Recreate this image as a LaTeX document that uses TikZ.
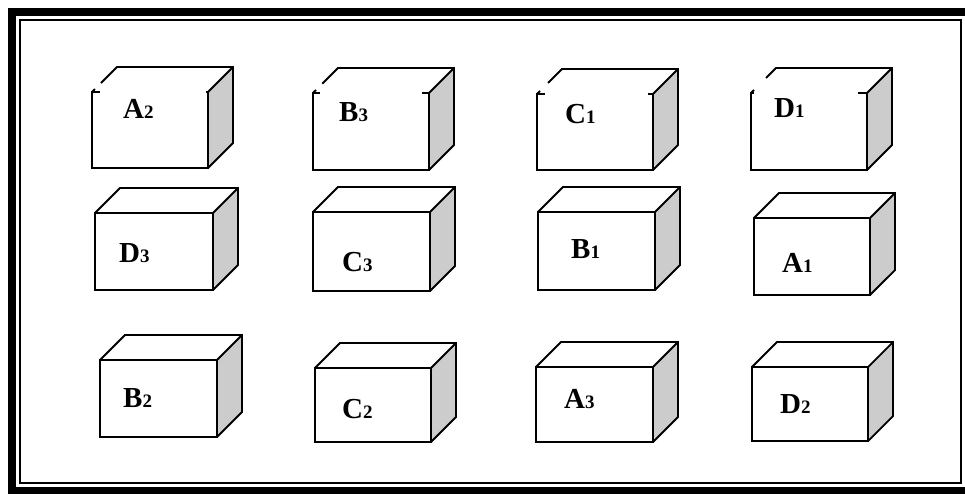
\documentclass[tikz,border=0pt]{standalone}
\usepackage{fontspec}
\setmainfont{Liberation Serif}
\definecolor{sidegray}{RGB}{204,204,204}
\tikzset{
  edge/.style={line width=1.8pt, line join=miter},
  lbl/.style={anchor=base west, inner sep=0pt, font=\fontsize{29}{29}\selectfont\bfseries},
  outerframe/.style={line width=8pt},
  innerframe/.style={line width=2pt}
}
\newcommand\lab[2]{#1{\fontsize{19}{19}\selectfont #2}}
% full cube: x0 y0(top) x1 y1(bottom)
\newcommand\fullcube[4]{%
  \fill[sidegray] (#3,#2) -- ++(25,-25) -- ({#3+25},{#4-25}) -- (#3,#4) -- cycle;
  \draw[edge] (#1,#2) rectangle (#3,#4);
  \draw[edge] (#1,#2) -- ++(25,-25) -- ({#3+25},{#2-25}) -- ({#3+25},{#4-25}) -- (#3,#4);
  \draw[edge] (#3,#2) -- ++(25,-25);
}
% open cube: x0 y0 x1 y1 xL xR t
\newcommand\opencube[7]{%
  \fill[sidegray] (#3,#2) -- ++(25,-25) -- ({#3+25},{#4-25}) -- (#3,#4) -- cycle;
  \draw[edge] (#5,#2) -- (#1,#2) -- (#1,#4) -- (#3,#4) -- (#3,#2) -- (#6,#2);
  \draw[edge] ({#1+25*#7},{#2-25*#7}) -- ({#1+25},{#2-25}) -- ({#3+25},{#2-25}) -- ({#3+25},{#4-25}) -- (#3,#4);
  \draw[edge] (#3,#2) -- ++(25,-25);
  \draw[edge] (#1,#2) -- ++(3,-3);
}
\begin{document}
\begin{tikzpicture}[x=1pt,y=-1pt]
\useasboundingbox (0,0) rectangle (965,493);
\clip (0,0) rectangle (965,493);
\fill[white] (0,0) rectangle (965,493);
\draw[outerframe] (12,12) rectangle (975,491);
\draw[innerframe] (20,20) rectangle (961,483);
% top row
\opencube{92}{92}{208}{168}{100}{206}{0.36}
\opencube{313}{93}{429}{170}{320}{422}{0.37}
\opencube{537}{94}{653}{170}{545}{648}{0.44}
\opencube{751}{93}{867}{170}{754}{858}{0.6}
% middle row
\fullcube{95}{213}{213}{290}
\fullcube{313}{212}{430}{291}
\fullcube{538}{212}{655}{290}
\fullcube{754}{218}{870}{295}
% bottom row
\fullcube{100}{360}{217}{437}
\fullcube{315}{368}{431}{442}
\fullcube{536}{367}{653}{442}
\fullcube{752}{367}{868}{441}
% labels
\node[lbl] (A2) at (123,118) {\lab{A}{2}};
\node[lbl] (B3) at (339,121) {\lab{B}{3}};
\node[lbl] (C1) at (565,123) {\lab{C}{1}};
\node[lbl] (D1) at (774,117) {\lab{D}{1}};
\node[lbl] (D3) at (119,262) {\lab{D}{3}};
\node[lbl] (C3) at (342,271) {\lab{C}{3}};
\node[lbl] (B1) at (571,258) {\lab{B}{1}};
\node[lbl] (A1) at (782,272) {\lab{A}{1}};
\node[lbl] (B2) at (123,407) {\lab{B}{2}};
\node[lbl] (C2) at (342,418) {\lab{C}{2}};
\node[lbl] (A3) at (564,408) {\lab{A}{3}};
\node[lbl] (D2) at (780,413) {\lab{D}{2}};
\end{tikzpicture}
\end{document}
